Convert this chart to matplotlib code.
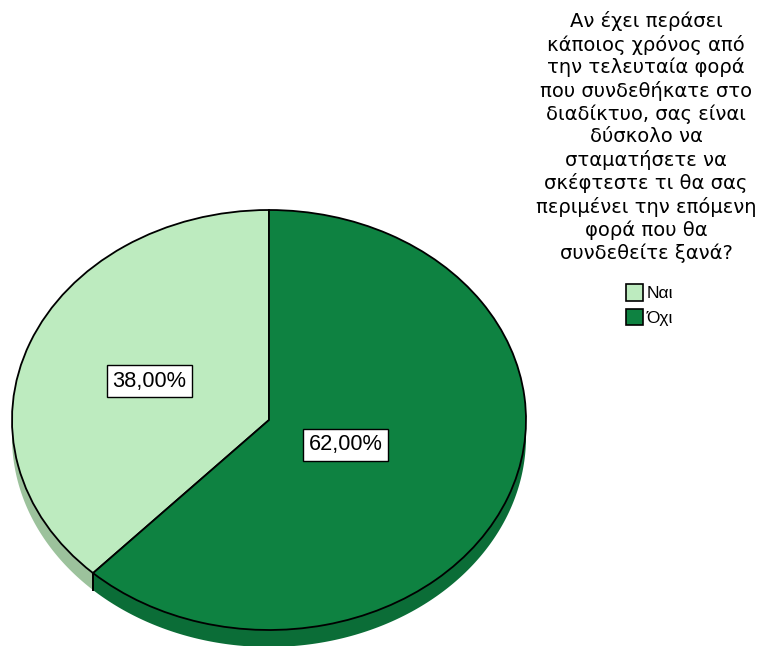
import numpy as np
import matplotlib.pyplot as plt
from matplotlib.patches import Polygon, Patch

plt.rcParams["font.family"] = ["Liberation Sans", "DejaVu Sans"]

labels = ["Ναι", "Όχι"]
shares = [38.0, 62.0]
top_colors = ["#bdebbf", "#0e8241"]
side_colors = ["#9cc29c", "#0b6d37"]
label_dist = [0.5, 0.32]
title = ("Αν έχει περάσει\nκάποιος χρόνος από\nτην τελευταία φορά\n"
         "που συνδεθήκατε στο\nδιαδίκτυο, σας είναι\nδύσκολο να\n"
         "σταματήσετε να\nσκέφτεστε τι θα σας\nπεριμένει την επόμενη\n"
         "φορά που θα\nσυνδεθείτε ξανά?")

W, H = 763, 646
CX, CY = 269, 420      # pie centre in pixels
RX, RY = 257, 210      # ellipse radii in pixels
DEPTH = 17


def side_band(ax, a, b, d, color):
    t = np.radians(np.linspace(a, b, 200))
    top = np.column_stack([np.cos(t), np.sin(t)])
    bot = np.column_stack([np.cos(t), np.sin(t) - d])[::-1]
    ax.add_patch(Polygon(np.vstack([top, bot]), closed=True, facecolor=color,
                         edgecolor="none", zorder=1))


def main() -> None:
    fig = plt.figure(figsize=(W / 100, H / 100), dpi=100)
    ax = fig.add_axes([0, 0, 1, 1])

    wedges, _ = ax.pie(shares, colors=top_colors, startangle=90, counterclock=True,
                       radius=1, center=(0, 0),
                       wedgeprops=dict(edgecolor="black", linewidth=1.3))
    for w in wedges:
        w.set_zorder(3)
    ax.set_aspect("auto")
    ax.set_xlim(-CX / RX, (W - CX) / RX)
    ax.set_ylim((CY - H) / RY, CY / RY)
    ax.axis("off")

    d = DEPTH / RY
    for w, c in zip(wedges, side_colors):
        a, b = w.theta1 % 360, w.theta2 % 360
        if b <= a:
            b += 360
        lo, hi = max(a, 180), min(b, 360)
        if hi > lo:
            side_band(ax, lo, hi, d, c)
        # slice boundaries on the visible side
        for ang in (a, b):
            if 180 < ang % 360 < 360:
                r = np.radians(ang)
                ax.plot([np.cos(r)] * 2, [np.sin(r), np.sin(r) - d],
                        color="black", lw=1.3, zorder=2)

    for w, s, dist in zip(wedges, shares, label_dist):
        mid = np.radians((w.theta1 + w.theta2) / 2)
        ax.text(dist * np.cos(mid), dist * np.sin(mid),
                f"{s:.2f}%".replace(".", ","), ha="center", va="center",
                fontsize=15.7, zorder=5,
                bbox=dict(boxstyle="square,pad=0.25", facecolor="white",
                          edgecolor="black", linewidth=1.0))

    fig.text(646 / W, 1 - 11 / H, title, ha="center", va="top", fontsize=14,
             family=["DejaVu Sans"], linespacing=1.22)

    handles = [Patch(facecolor=c, edgecolor="black", linewidth=1.2) for c in top_colors]
    fig.legend(handles, labels, loc="upper left", bbox_to_anchor=(614 / W, 1 - 272 / H),
               frameon=False, fontsize=12.5, handlelength=0.95, handleheight=1.1,
               handletextpad=0.25, labelspacing=0.42, borderpad=0.2)

    fig.savefig("out.png", dpi=100)
    plt.close(fig)


if __name__ == "__main__":
    main()
